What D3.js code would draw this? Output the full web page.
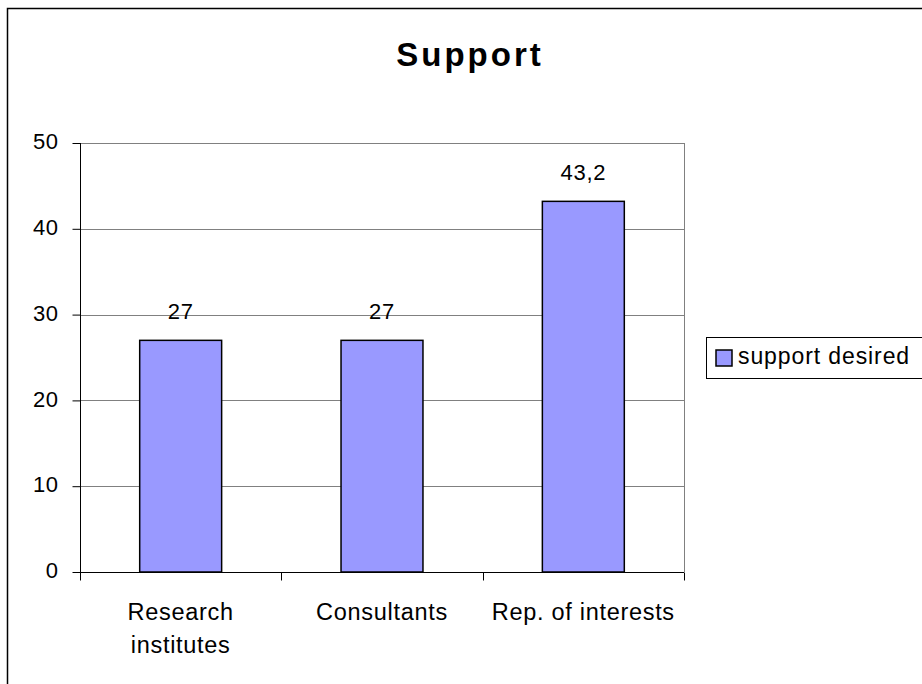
<!DOCTYPE html>
<html>
<head>
<meta charset="utf-8">
<script src="https://cdn.jsdelivr.net/npm/d3@7/dist/d3.min.js"></script>
<style>
  html, body { margin: 0; padding: 0; background: #fff; }
  svg { display: block; font-family: "Liberation Sans", Arial, sans-serif; }
</style>
</head>
<body>
<svg id="chart" width="922" height="684"></svg>
<script>
const title = "Support";
const categories = ["Research institutes", "Consultants", "Rep. of interests"];
const categoryLines = [["Research", "institutes"], ["Consultants"], ["Rep. of interests"]];
const seriesName = "support desired";
const values = [27, 27, 43.2];
const valueLabels = ["27", "27", "43,2"];
const yTicks = [0, 10, 20, 30, 40, 50];

const svg = d3.select("#chart");
const plot = { left: 80, right: 684, top: 143, bottom: 572 };

// outer chart border (extends past right/bottom edge)
svg.append("rect")
  .attr("x", 7.5).attr("y", 8.5)
  .attr("width", 940).attr("height", 700)
  .attr("fill", "#fff").attr("stroke", "#000").attr("stroke-width", 1.5);

const x = d3.scaleBand().domain(categories).range([plot.left, plot.right]).paddingInner(0).paddingOuter(0);
const y = d3.scaleLinear().domain([0, 50]).range([plot.bottom, plot.top]);

// gridlines
svg.append("g").selectAll("line").data(yTicks.filter(d => d > 0)).join("line")
  .attr("x1", plot.left).attr("x2", plot.right)
  .attr("y1", d => Math.round(y(d)) + 0.5).attr("y2", d => Math.round(y(d)) + 0.5)
  .attr("stroke", "#808080").attr("stroke-width", 1);

// right border of plot area
svg.append("line")
  .attr("x1", plot.right + 0.5).attr("x2", plot.right + 0.5)
  .attr("y1", plot.top).attr("y2", plot.bottom)
  .attr("stroke", "#808080").attr("stroke-width", 1);

// bars
const barW = x.bandwidth() * 0.407;
svg.append("g").selectAll("rect").data(values).join("rect")
  .attr("x", (d, i) => x(categories[i]) + (x.bandwidth() - barW) / 2)
  .attr("y", d => y(d))
  .attr("width", barW)
  .attr("height", d => y(0) - y(d))
  .attr("fill", "#9999FF").attr("stroke", "#000").attr("stroke-width", 1.5);

// value labels
svg.append("g").selectAll("text").data(values).join("text")
  .attr("x", (d, i) => x(categories[i]) + x.bandwidth() / 2)
  .attr("y", d => y(d) - 21)
  .attr("text-anchor", "middle")
  .attr("font-size", 22).attr("letter-spacing", 0.7)
  .text((d, i) => valueLabels[i]);

// Y axis
const yAxis = d3.axisLeft(y).tickValues(yTicks).tickSize(8).tickPadding(14).tickFormat(d3.format("d"));
const gy = svg.append("g").attr("transform", `translate(${plot.left + 0.5},0)`).call(yAxis);
gy.select(".domain").attr("stroke", "#000").attr("d", `M0,${plot.top}V${plot.bottom}`);
gy.selectAll(".tick line").attr("stroke", "#000");
gy.selectAll(".tick text").attr("font-size", 22).attr("font-family", "Liberation Sans, Arial, sans-serif")
  .attr("fill", "#000").attr("dy", "0.26em").attr("letter-spacing", 0.5);

// X axis with boundary ticks
const gx = svg.append("g").attr("transform", `translate(0,${plot.bottom + 0.5})`);
gx.append("line").attr("x1", plot.left).attr("x2", plot.right).attr("stroke", "#000");
const bounds = categories.map(c => x(c)).concat([plot.right]);
gx.selectAll("line.tk").data(bounds).join("line").attr("class", "tk")
  .attr("x1", d => Math.round(d) + 0.5).attr("x2", d => Math.round(d) + 0.5)
  .attr("y1", 0).attr("y2", 8).attr("stroke", "#000");
const lab = gx.selectAll("text").data(categoryLines).join("text")
  .attr("text-anchor", "middle")
  .attr("font-size", 23.5).attr("letter-spacing", 0.7)
  .attr("x", (d, i) => x(categories[i]) + x.bandwidth() / 2);
lab.selectAll("tspan").data(d => d).join("tspan")
  .attr("x", function() { return d3.select(this.parentNode).attr("x"); })
  .attr("y", (d, j) => 47 + j * 33)
  .text(d => d);

// title
svg.append("text").attr("x", 470).attr("y", 66).attr("text-anchor", "middle")
  .attr("font-size", 33).attr("font-weight", "bold").attr("letter-spacing", 3)
  .text(title);

// legend
const lg = svg.append("g");
lg.append("rect").attr("x", 706.5).attr("y", 337.5).attr("width", 240).attr("height", 41)
  .attr("fill", "#fff").attr("stroke", "#000").attr("stroke-width", 1);
lg.append("rect").attr("x", 716).attr("y", 350).attr("width", 16).attr("height", 16)
  .attr("fill", "#9999FF").attr("stroke", "#000").attr("stroke-width", 1.5);
lg.append("text").attr("x", 738).attr("y", 364).attr("font-size", 23).attr("letter-spacing", 0.9)
  .text(seriesName);
</script>
</body>
</html>
